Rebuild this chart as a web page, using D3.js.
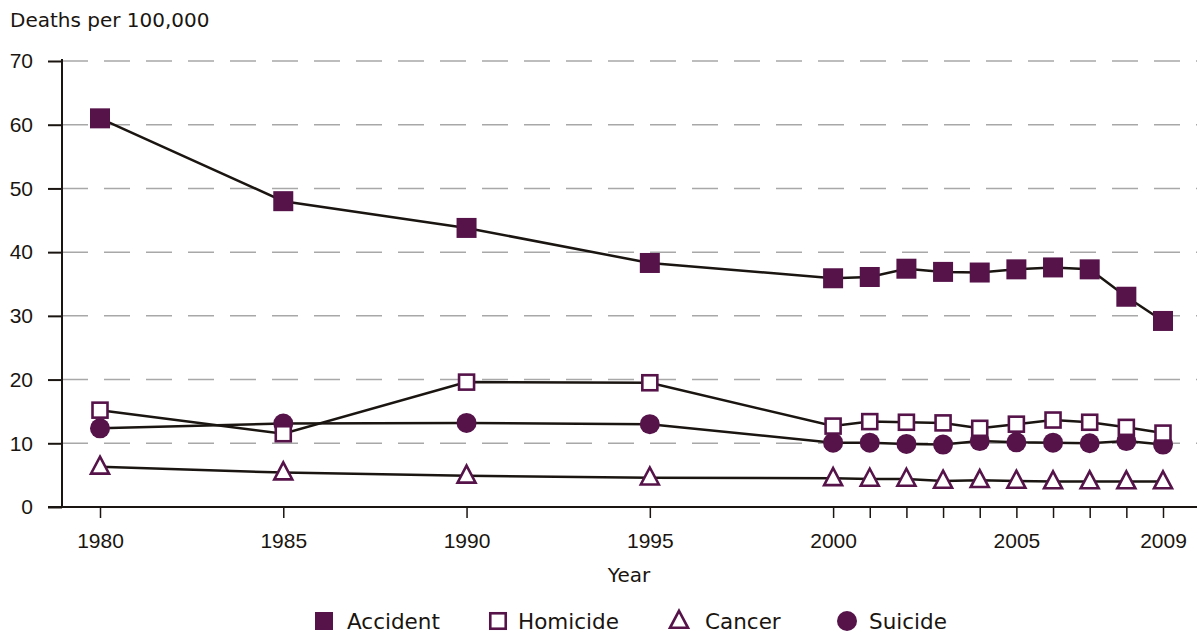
<!DOCTYPE html>
<html><head><meta charset="utf-8">
<script src="https://cdn.jsdelivr.net/npm/d3@7"></script>
<style>body{margin:0;background:#fff;} svg{display:block;}</style>
</head><body>
<svg id="c" width="1197" height="637"></svg>
<script>
const years = [1980,1985,1990,1995,2000,2001,2002,2003,2004,2005,2006,2007,2008,2009];
const xTickLabels = [1980,1985,1990,1995,2000,2005,2009];
const yTicks = [0,10,20,30,40,50,60,70];
const accident = [61,48,43.8,38.3,35.9,36.1,37.4,36.9,36.8,37.3,37.6,37.3,33.0,29.2];
const homicide = [15.2,11.5,19.6,19.5,12.7,13.4,13.3,13.2,12.35,13.0,13.65,13.3,12.5,11.6];
const cancer = [6.3,5.4,4.9,4.6,4.5,4.4,4.4,4.1,4.2,4.1,4.0,4.0,4.0,4.0];
const suicide = [12.35,13.1,13.2,13.0,10.1,10.1,9.9,9.8,10.35,10.15,10.1,10.0,10.35,9.8];
const seriesNames = ["Accident","Homicide","Cancer","Suicide"];

const purple = "#55134a";
const ink = "#1a1510";
const svg = d3.select("#c");
const x = d3.scaleLinear().domain([1980,2009]).range([100,1163]);
const y = d3.scaleLinear().domain([0,70]).range([507,61]);

// grid
svg.append("g").selectAll("line").data(yTicks.filter(d=>d>0)).join("line")
  .attr("x1",62).attr("x2",1197).attr("y1",d=>y(d)).attr("y2",d=>y(d))
  .attr("stroke","#a8a8a8").attr("stroke-width",1.5).attr("stroke-dasharray","26,16");

// y axis
const ya = svg.append("g").attr("transform","translate(62,0)")
  .call(d3.axisLeft(y).tickValues(yTicks).tickSize(14).tickPadding(15).tickFormat(d3.format("d")));
ya.select(".domain").remove();
ya.selectAll(".tick line").attr("stroke",ink).attr("stroke-width",2);
ya.selectAll("text").attr("font-family","Liberation Sans").attr("font-size",21).attr("fill",ink);
svg.append("line").attr("x1",62).attr("x2",62).attr("y1",y(70)-2).attr("y2",y(0)+1).attr("stroke",ink).attr("stroke-width",2);

// x axis
const xa = svg.append("g").attr("transform","translate(0,507)")
  .call(d3.axisBottom(x).tickValues(years).tickSize(11).tickPadding(15)
    .tickFormat(d=>xTickLabels.includes(d)?d:""));
xa.select(".domain").remove();
xa.selectAll(".tick line").attr("stroke",ink).attr("stroke-width",1.5);
xa.selectAll("text").attr("font-family","Liberation Sans").attr("font-size",21).attr("fill",ink);
svg.append("line").attr("x1",48).attr("x2",1197).attr("y1",507).attr("y2",507).attr("stroke",ink).attr("stroke-width",2);

svg.append("text").attr("x",10).attr("y",27).text("Deaths per 100,000")
  .attr("font-family","DejaVu Sans").attr("font-size",20).attr("fill",ink);
svg.append("text").attr("x",629).attr("y",582).attr("text-anchor","middle").text("Year")
  .attr("font-family","DejaVu Sans").attr("font-size",20).attr("fill",ink);

const line = d3.line().x((d,i)=>x(years[i])).y(d=>y(d));
const all = [accident,homicide,cancer,suicide];
all.forEach(s=>{
  svg.append("path").attr("d",line(s)).attr("fill","none").attr("stroke",ink).attr("stroke-width",2.5);
});

function marker(g, type, cx, cy, scale){
  scale = scale||1;
  if(type==="Accident"){
    const s=20*scale;
    g.append("rect").attr("x",cx-s/2).attr("y",cy-s/2).attr("width",s).attr("height",s).attr("fill",purple);
  } else if(type==="Homicide"){
    const s=15*scale;
    g.append("rect").attr("x",cx-s/2).attr("y",cy-s/2).attr("width",s).attr("height",s).attr("fill","#fff").attr("stroke",purple).attr("stroke-width",2.6);
  } else if(type==="Cancer"){
    const w=18*scale, h=17*scale;
    g.append("path").attr("d",`M${cx},${cy-h*0.6}L${cx+w/2},${cy+h*0.4}L${cx-w/2},${cy+h*0.4}Z`)
      .attr("fill","#fff").attr("stroke",purple).attr("stroke-width",2.6).attr("stroke-linejoin","miter");
  } else {
    g.append("circle").attr("cx",cx).attr("cy",cy).attr("r",10*scale).attr("fill",purple);
  }
}
const mg = svg.append("g");
[["Cancer",cancer],["Suicide",suicide],["Homicide",homicide],["Accident",accident]].forEach(([n,s])=>{
  s.forEach((v,i)=>marker(mg,n,x(years[i]),y(v)));
});

// legend
const legX = [324,498,679,847];
const legTextX = [347,518,705,869];
const legScale = [0.9,1.03,1,1];
const lg = svg.append("g");
seriesNames.forEach((n,i)=>{
  marker(lg,n,legX[i],621,legScale[i]);
  lg.append("text").attr("x",legTextX[i]).attr("y",629).text(n)
    .attr("font-family","DejaVu Sans").attr("font-size",21.5).attr("fill",ink);
});
</script>
</body></html>
